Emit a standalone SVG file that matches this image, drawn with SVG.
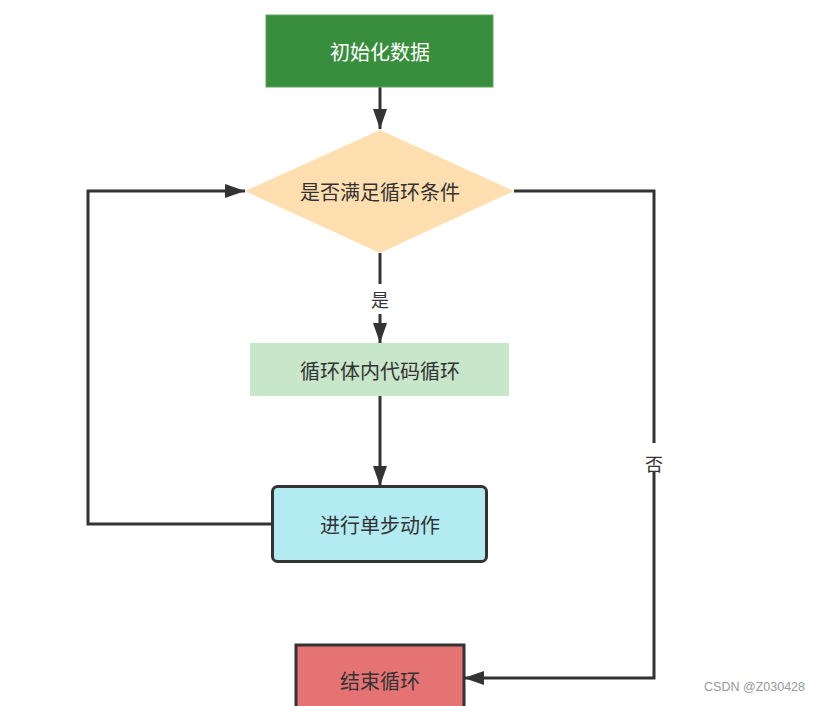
<svg xmlns="http://www.w3.org/2000/svg" width="821" height="706" viewBox="0 0 821 706">
<style>
.t{font-family:"Noto Sans CJK SC","Noto Sans",sans-serif;font-size:20px;text-anchor:middle;dominant-baseline:central;fill:#333}
.e{fill:none;stroke:#333;stroke-width:3}
.lb{font-family:"Noto Sans CJK SC","Noto Sans",sans-serif;font-size:18px;text-anchor:middle;dominant-baseline:central;fill:#333}
</style>
<defs>
<marker id="ahw" viewBox="0 0 10 10" refX="10" refY="5" markerWidth="20" markerHeight="14" markerUnits="userSpaceOnUse" orient="auto" preserveAspectRatio="none"><path d="M0,0 L10,5 L0,10 z" fill="#333"/></marker>
</defs>
<rect width="821" height="706" fill="#fff"/>
<g id="connectors">
<path class="e" d="M380,87 V129" marker-end="url(#ahw)"/>
<path class="e" d="M380,253 V284"/>
<path class="e" d="M380,314 V343" marker-end="url(#ahw)"/>
<path class="e" d="M380,396 V486" marker-end="url(#ahw)"/>
<path class="e" d="M272,524 H88 V191 H245" marker-end="url(#ahw)"/>
<path class="e" d="M514,191 H654 V443"/>
<path class="e" d="M654,472 V678 H464" marker-end="url(#ahw)"/>
<text class="lb" x="380" y="299">是</text>
<text class="lb" x="654" y="463">否</text>
</g>
<g id="init">
<rect x="266" y="15" width="227" height="72" fill="#388e3c" stroke="#5aa65e" stroke-width="1"/>
<text class="t" x="380" y="51" style="fill:#fff">初始化数据</text>
</g>
<g id="cond">
<polygon points="380,130 514,191 380,253 245,191" fill="#ffdfb0"/>
<text class="t" x="380" y="191">是否满足循环条件</text>
</g>
<g id="body">
<rect x="250" y="343" width="259" height="53" fill="#c8e6c9"/>
<text class="t" x="380" y="370">循环体内代码循环</text>
</g>
<g id="step">
<rect x="272.5" y="486.5" width="214" height="75" rx="5" fill="#b2ebf2" stroke="#333" stroke-width="3"/>
<text class="t" x="380" y="524">进行单步动作</text>
</g>
<g id="end">
<rect x="296" y="645" width="168" height="70" fill="#e57373" stroke="#333" stroke-width="3"/>
<text class="t" x="380" y="680">结束循环</text>
</g>
<text x="805" y="691" font-family="Liberation Sans, Arial, sans-serif" font-size="12.5" fill="#999" text-anchor="end">CSDN @Z030428</text>
</svg>
